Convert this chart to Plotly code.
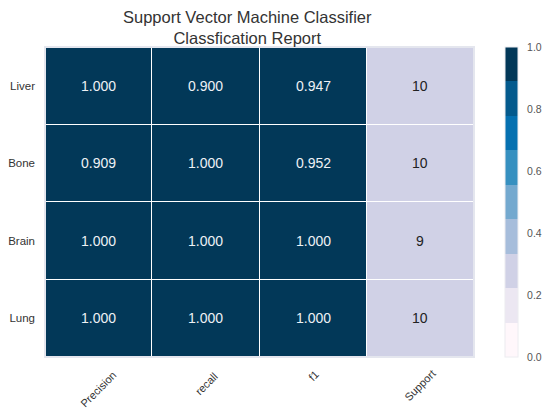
import plotly.graph_objects as go

classes = ["Liver", "Bone", "Brain", "Lung"]
metrics = ["Precision", "recall", "f1", "Support"]
precision = [1.000, 0.909, 1.000, 1.000]
recall = [0.900, 1.000, 1.000, 1.000]
f1 = [0.947, 0.952, 1.000, 1.000]
support = [10, 10, 9, 10]

# PuBu, 9 discrete steps like the yellowbrick colorbar
pubu = ["#fff7fb", "#ece7f2", "#d0d1e6", "#a6bddb", "#74a9cf",
        "#3690c0", "#0570b0", "#045a8d", "#023858"]
scale = []
n = len(pubu)
for i, c in enumerate(pubu):
    scale.append([i / n, c])
    scale.append([(i + 1) / n, c])

total = sum(support)
z = []
for i in range(len(classes)):
    z.append([precision[i], recall[i], f1[i], support[i] / total])

# page body has an 8px margin, so the figure is 8px smaller each way
W, H = 542, 408
L, R, T, B = 37, 76, 39, 59
pw = W - L - R
ph = H - T - B

fig = go.Figure(go.Heatmap(
    z=z, x=metrics, y=classes,
    zmin=0, zmax=1, colorscale=scale,
    xgap=1, ygap=1, hoverinfo="skip",
    colorbar=dict(
        x=(497 - L) / pw, xanchor="left", xpad=0, y=0.5, yanchor="middle", ypad=0,
        thickness=13, len=ph, lenmode="pixels",
        tickvals=[0, 0.2, 0.4, 0.6, 0.8, 1.0], tickformat=".1f",
        ticks="outside", ticklen=7, tickcolor="rgba(0,0,0,0)",
        outlinecolor="#ececf0", outlinewidth=1,
        tickfont=dict(size=10.5, color="#555555", family="Liberation Sans"),
    ),
))

for i, cls in enumerate(classes):
    vals = [precision[i], recall[i], f1[i]]
    for j, v in enumerate(vals):
        fig.add_annotation(x=metrics[j], y=cls, text="%.3f" % v, showarrow=False,
                           font=dict(size=14, color="#eef1f5", family="Liberation Sans"))
    fig.add_annotation(x=metrics[3], y=cls, text=str(support[i]), showarrow=False,
                       font=dict(size=14, color="#222222", family="Liberation Sans"))

# rotated x labels, centred, with their top just below the heatmap
for m in metrics:
    half = 0.707 * (len(m) * 5.5 + 11) / 2
    yc = 11 + half
    fig.add_annotation(x=m, y=-yc / ph, xref="x", yref="paper", text=m, showarrow=False,
                       textangle=-45, xanchor="center", yanchor="middle",
                       font=dict(size=11, color="#333333", family="Liberation Sans"))

# two-line title
fig.add_annotation(x=(239 - L) / pw, y=1 + (T - 19.5) / ph, xref="paper", yref="paper",
                   xanchor="center", yanchor="middle", showarrow=False,
                   text="Support Vector Machine Classifier<br>Classfication Report",
                   font=dict(size=16.5, color="#333333", family="Liberation Sans"))

fig.add_shape(type="rect", xref="paper", yref="paper", x0=0, x1=1, y0=0, y1=1,
              line=dict(color="#e4e6ee", width=2))

fig.update_layout(
    width=W, height=H,
    margin=dict(l=L, r=R, t=T, b=B, autoexpand=False),
    paper_bgcolor="white", plot_bgcolor="white",
    xaxis=dict(showticklabels=False, showgrid=False, zeroline=False, automargin=False),
    yaxis=dict(autorange="reversed", showgrid=False, zeroline=False, ticks="",
               ticklabelstandoff=9, automargin=False,
               tickfont=dict(size=11.5, color="#333333", family="Liberation Sans")),
)

fig.write_html("out.html")
